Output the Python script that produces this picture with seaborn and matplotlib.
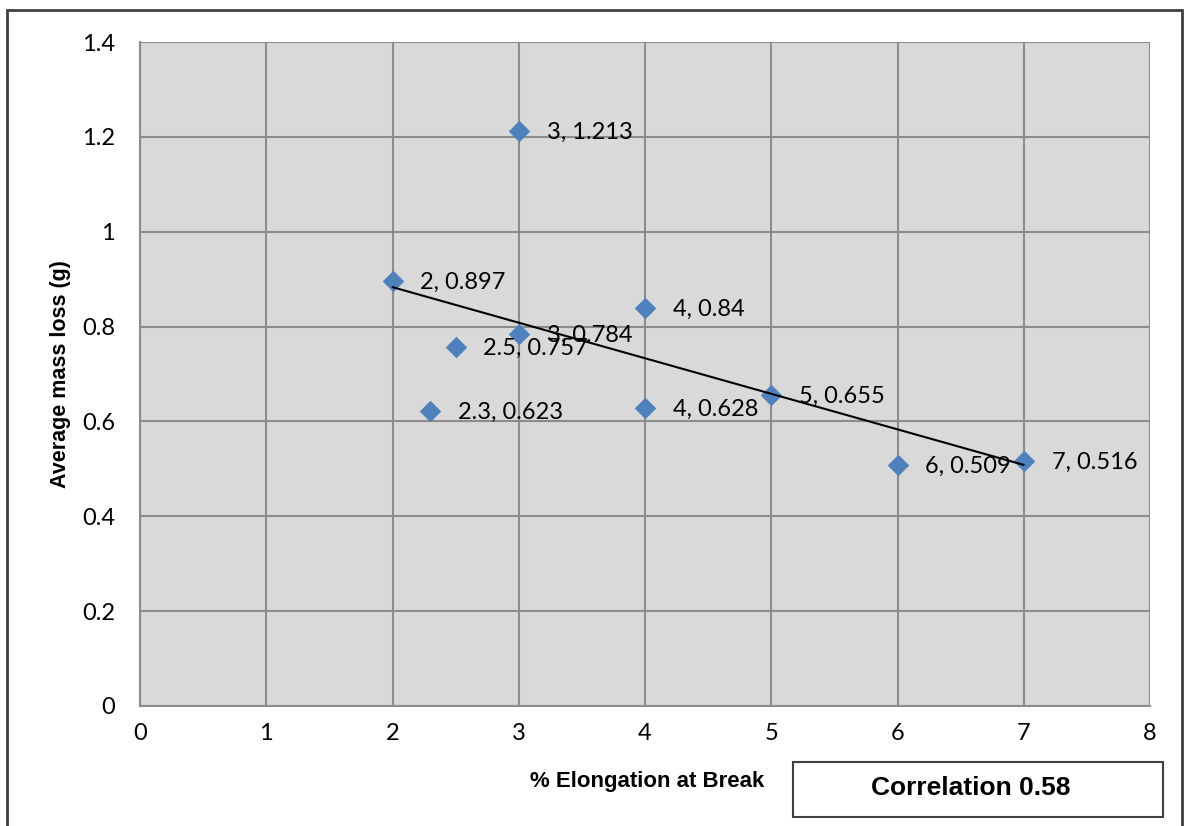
import numpy as np
import pandas as pd
import matplotlib
matplotlib.use("Agg")
import matplotlib.pyplot as plt
import seaborn as sns
from matplotlib.patches import Rectangle

elongation = [3, 2, 4, 3, 2.5, 2.3, 4, 5, 6, 7]
mass_loss = [1.213, 0.897, 0.84, 0.784, 0.757, 0.623, 0.628, 0.655, 0.509, 0.516]
point_labels = ["3, 1.213", "2, 0.897", "4, 0.84", "3, 0.784", "2.5, 0.757",
                "2.3, 0.623", "4, 0.628", "5, 0.655", "6, 0.509", "7, 0.516"]
x_ticks = [0, 1, 2, 3, 4, 5, 6, 7, 8]
y_ticks = [0, 0.2, 0.4, 0.6, 0.8, 1, 1.2, 1.4]
y_tick_labels = ["0", "0.2", "0.4", "0.6", "0.8", "1", "1.2", "1.4"]

df = pd.DataFrame({"x": elongation, "y": mass_loss})

sns.set_style("white")
plt.rcParams['font.family'] = ['Lato', 'DejaVu Sans']
plt.rcParams['text.color'] = 'black'
plt.rcParams['xtick.color'] = 'black'
plt.rcParams['ytick.color'] = 'black'

fig = plt.figure(figsize=(11.9, 8.26), dpi=100)
ax = fig.add_axes([140/1190, 1-706/826, (1150-140)/1190, (706-42)/826])
ax.set_facecolor("#D9D9D9")

# trend line
slope, intercept = np.polyfit(df["x"], df["y"], 1)
xs = np.array([df["x"].min(), df["x"].max()])
ax.plot(xs, slope*xs + intercept, color="black", lw=1.5, zorder=4)

sns.scatterplot(data=df, x="x", y="y", marker="D", s=120, color="#4F81BD",
                edgecolor="#4F81BD", linewidth=0, ax=ax, zorder=3)

for xv, yv, lab in zip(elongation, mass_loss, point_labels):
    ax.annotate(lab, (xv, yv), xytext=(20, -1), textcoords="offset points",
                va="center", ha="left", fontsize=17, color="black", zorder=5)

ax.set_xlim(0, 8)
ax.set_ylim(0, 1.4)
ax.set_xticks(x_ticks)
ax.set_xticklabels([str(t) for t in x_ticks])
ax.set_yticks(y_ticks)
ax.set_yticklabels(y_tick_labels)
ax.grid(True, color="#8C8C8C", lw=1.5)
ax.set_axisbelow(True)
for s in ax.spines.values():
    s.set_visible(False)
ax.spines["left"].set_visible(True)
ax.spines["left"].set_color("#8C8C8C")
ax.spines["left"].set_linewidth(1.5)
ax.spines["bottom"].set_visible(True)
ax.spines["bottom"].set_color("#8C8C8C")
ax.spines["bottom"].set_linewidth(1.5)
ax.tick_params(axis="both", labelsize=17, length=6, color="#8C8C8C", width=1.5, labelcolor="black")
ax.tick_params(axis="y", pad=12)
ax.tick_params(axis="x", length=0, pad=12)

ax.set_xlabel("")
ax.set_ylabel("Average mass loss (g)", fontsize=15.5, fontweight="bold",
              family=["Liberation Sans", "DejaVu Sans"], labelpad=8, color="black")

fig.text(647/1190, 1-782/826, "% Elongation at Break", ha="center", va="center",
         fontsize=16, fontweight="bold", family=["Liberation Sans", "DejaVu Sans"], color="black")

# correlation box
fig.patches.append(Rectangle((793/1190, 1-817/826), (1163-793)/1190, (817-762)/826,
                             transform=fig.transFigure, fill=False, edgecolor="#404040", lw=1.5))
fig.text(971/1190, 1-788/826, "Correlation 0.58", ha="center", va="center",
         fontsize=19, fontweight="bold", family=["Liberation Sans", "DejaVu Sans"], color="black")

# outer border
fig.patches.append(Rectangle((7/1190, -0.05), (1182-7)/1190, 1.05-10/826,
                             transform=fig.transFigure, fill=False, edgecolor="#404040", lw=2))

fig.savefig("out.png", dpi=100)
